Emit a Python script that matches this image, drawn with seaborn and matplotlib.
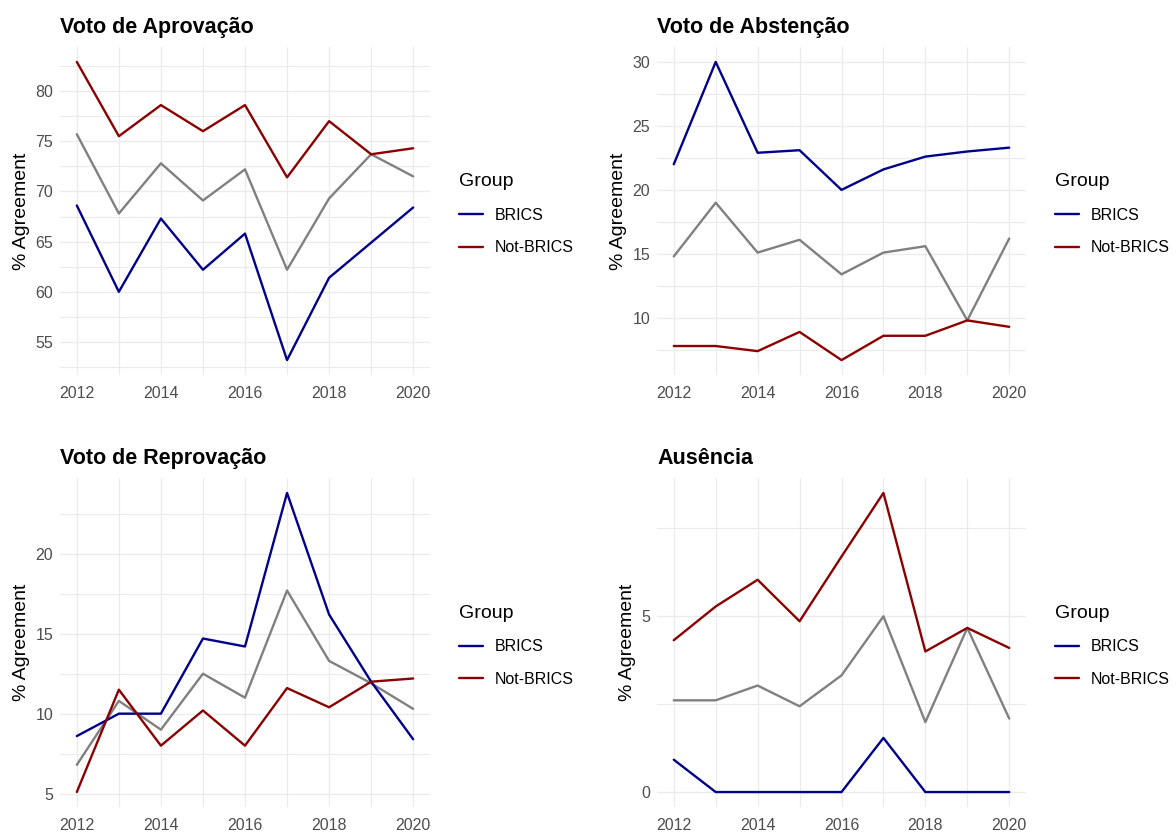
import numpy as np
import pandas as pd
import matplotlib
matplotlib.use("Agg")
import matplotlib.pyplot as plt
import seaborn as sns
from matplotlib.ticker import MultipleLocator
from matplotlib.lines import Line2D

years = [2012, 2013, 2014, 2015, 2016, 2017, 2018, 2019, 2020]

aprov_brics = [68.6, 60.0, 67.3, 62.2, 65.8, 53.2, 61.4, 64.9, 68.4]
aprov_not = [82.9, 75.5, 78.6, 76.0, 78.6, 71.4, 77.0, 73.7, 74.3]
aprov_all = [75.7, 67.8, 72.8, 69.1, 72.2, 62.2, 69.3, 73.7, 71.5]

abst_brics = [22.0, 30.0, 22.9, 23.1, 20.0, 21.6, 22.6, 23.0, 23.3]
abst_not = [7.8, 7.8, 7.4, 8.9, 6.7, 8.6, 8.6, 9.8, 9.3]
abst_all = [14.8, 19.0, 15.1, 16.1, 13.4, 15.1, 15.6, 9.8, 16.2]

reprov_brics = [8.6, 10.0, 10.0, 14.7, 14.2, 23.8, 16.2, 12.0, 8.4]
reprov_not = [5.1, 11.5, 8.0, 10.2, 8.0, 11.6, 10.4, 12.0, 12.2]
reprov_all = [6.8, 10.8, 9.0, 12.5, 11.0, 17.7, 13.3, 11.9, 10.3]

ausen_brics = [0.92, 0.0, 0.0, 0.0, 0.0, 1.54, 0.0, 0.0, 0.0]
ausen_not = [4.32, 5.28, 6.04, 4.86, 6.70, 8.51, 4.00, 4.67, 4.10]
ausen_all = [2.61, 2.61, 3.03, 2.44, 3.32, 5.00, 1.99, 4.67, 2.09]

titles = ["Voto de Aprovação", "Voto de Abstenção", "Voto de Reprovação", "Ausência"]
groups = ["BRICS", "Not-BRICS"]
colors = {"BRICS": "#00008B", "Not-BRICS": "#8B0000"}
gray = "#808080"

panels = [
    (aprov_brics, aprov_not, aprov_all),
    (abst_brics, abst_not, abst_all),
    (reprov_brics, reprov_not, reprov_all),
    (ausen_brics, ausen_not, ausen_all),
]

sns.set_theme(style="white")
plt.rcParams["font.family"] = ["Liberation Sans", "DejaVu Sans"]

W, H = 1176, 832
fig = plt.figure(figsize=(W / 100, H / 100), dpi=100)

# axes boxes in pixels: (left, top, right, bottom)
boxes = [
    (60, 47, 430, 375),
    (657, 47, 1026, 375),
    (60, 478, 430, 807),
    (657, 478, 1026, 807),
]

grid_c = "#EBEBEB"
lw = 1.7

for i, ((b, n, a), title, box) in enumerate(zip(panels, titles, boxes)):
    l, t, r, bt = box
    ax = fig.add_axes([l / W, 1 - bt / H, (r - l) / W, (bt - t) / H])
    df = pd.DataFrame({
        "Year": years * 2,
        "value": list(b) + list(n),
        "Group": [groups[0]] * len(years) + [groups[1]] * len(years),
    })
    dfa = pd.DataFrame({"Year": years, "value": a})
    sns.lineplot(data=dfa, x="Year", y="value", color=gray, linewidth=lw, ax=ax, legend=False)
    sns.lineplot(data=df, x="Year", y="value", hue="Group", palette=colors,
                 hue_order=groups, linewidth=lw, ax=ax, legend=False)

    ax.margins(x=0.05, y=0.05)
    ax.set_xticks(years[::2])
    ax.set_xticks(years, minor=True)
    ax.yaxis.set_major_locator(MultipleLocator(5))
    ax.yaxis.set_minor_locator(MultipleLocator(2.5))
    ax.grid(True, which="major", color=grid_c, linewidth=1.0)
    ax.grid(True, which="minor", color=grid_c, linewidth=0.8)
    ax.set_axisbelow(True)
    for s in ax.spines.values():
        s.set_visible(False)
    ax.tick_params(axis="both", which="both", length=0, labelsize=11.5, labelcolor="#4D4D4D")
    ax.tick_params(axis="y", pad=5)
    ax.tick_params(axis="x", pad=8)
    ax.set_xlabel("")
    ax.set_ylabel("% Agreement", fontsize=14, color="black", labelpad=4)
    ax.set_title(title, loc="left", fontsize=15.5, fontweight="bold", pad=10, x=0.0,
                 color="black")

    handles = [Line2D([], [], color=colors[g], linewidth=lw) for g in groups]
    leg = ax.legend(handles, groups, title="Group", loc="center left",
                    bbox_to_anchor=(1.079, 0.49), frameon=False, fontsize=11.5,
                    title_fontsize=14, handlelength=1.5, handletextpad=0.75,
                    labelspacing=1.1, borderaxespad=0, borderpad=0)
    leg._legend_box.align = "left"
    for txt in leg.get_texts():
        txt.set_color("black")
    leg.get_title().set_color("black")

fig.savefig("out.png", dpi=100, facecolor="white")
